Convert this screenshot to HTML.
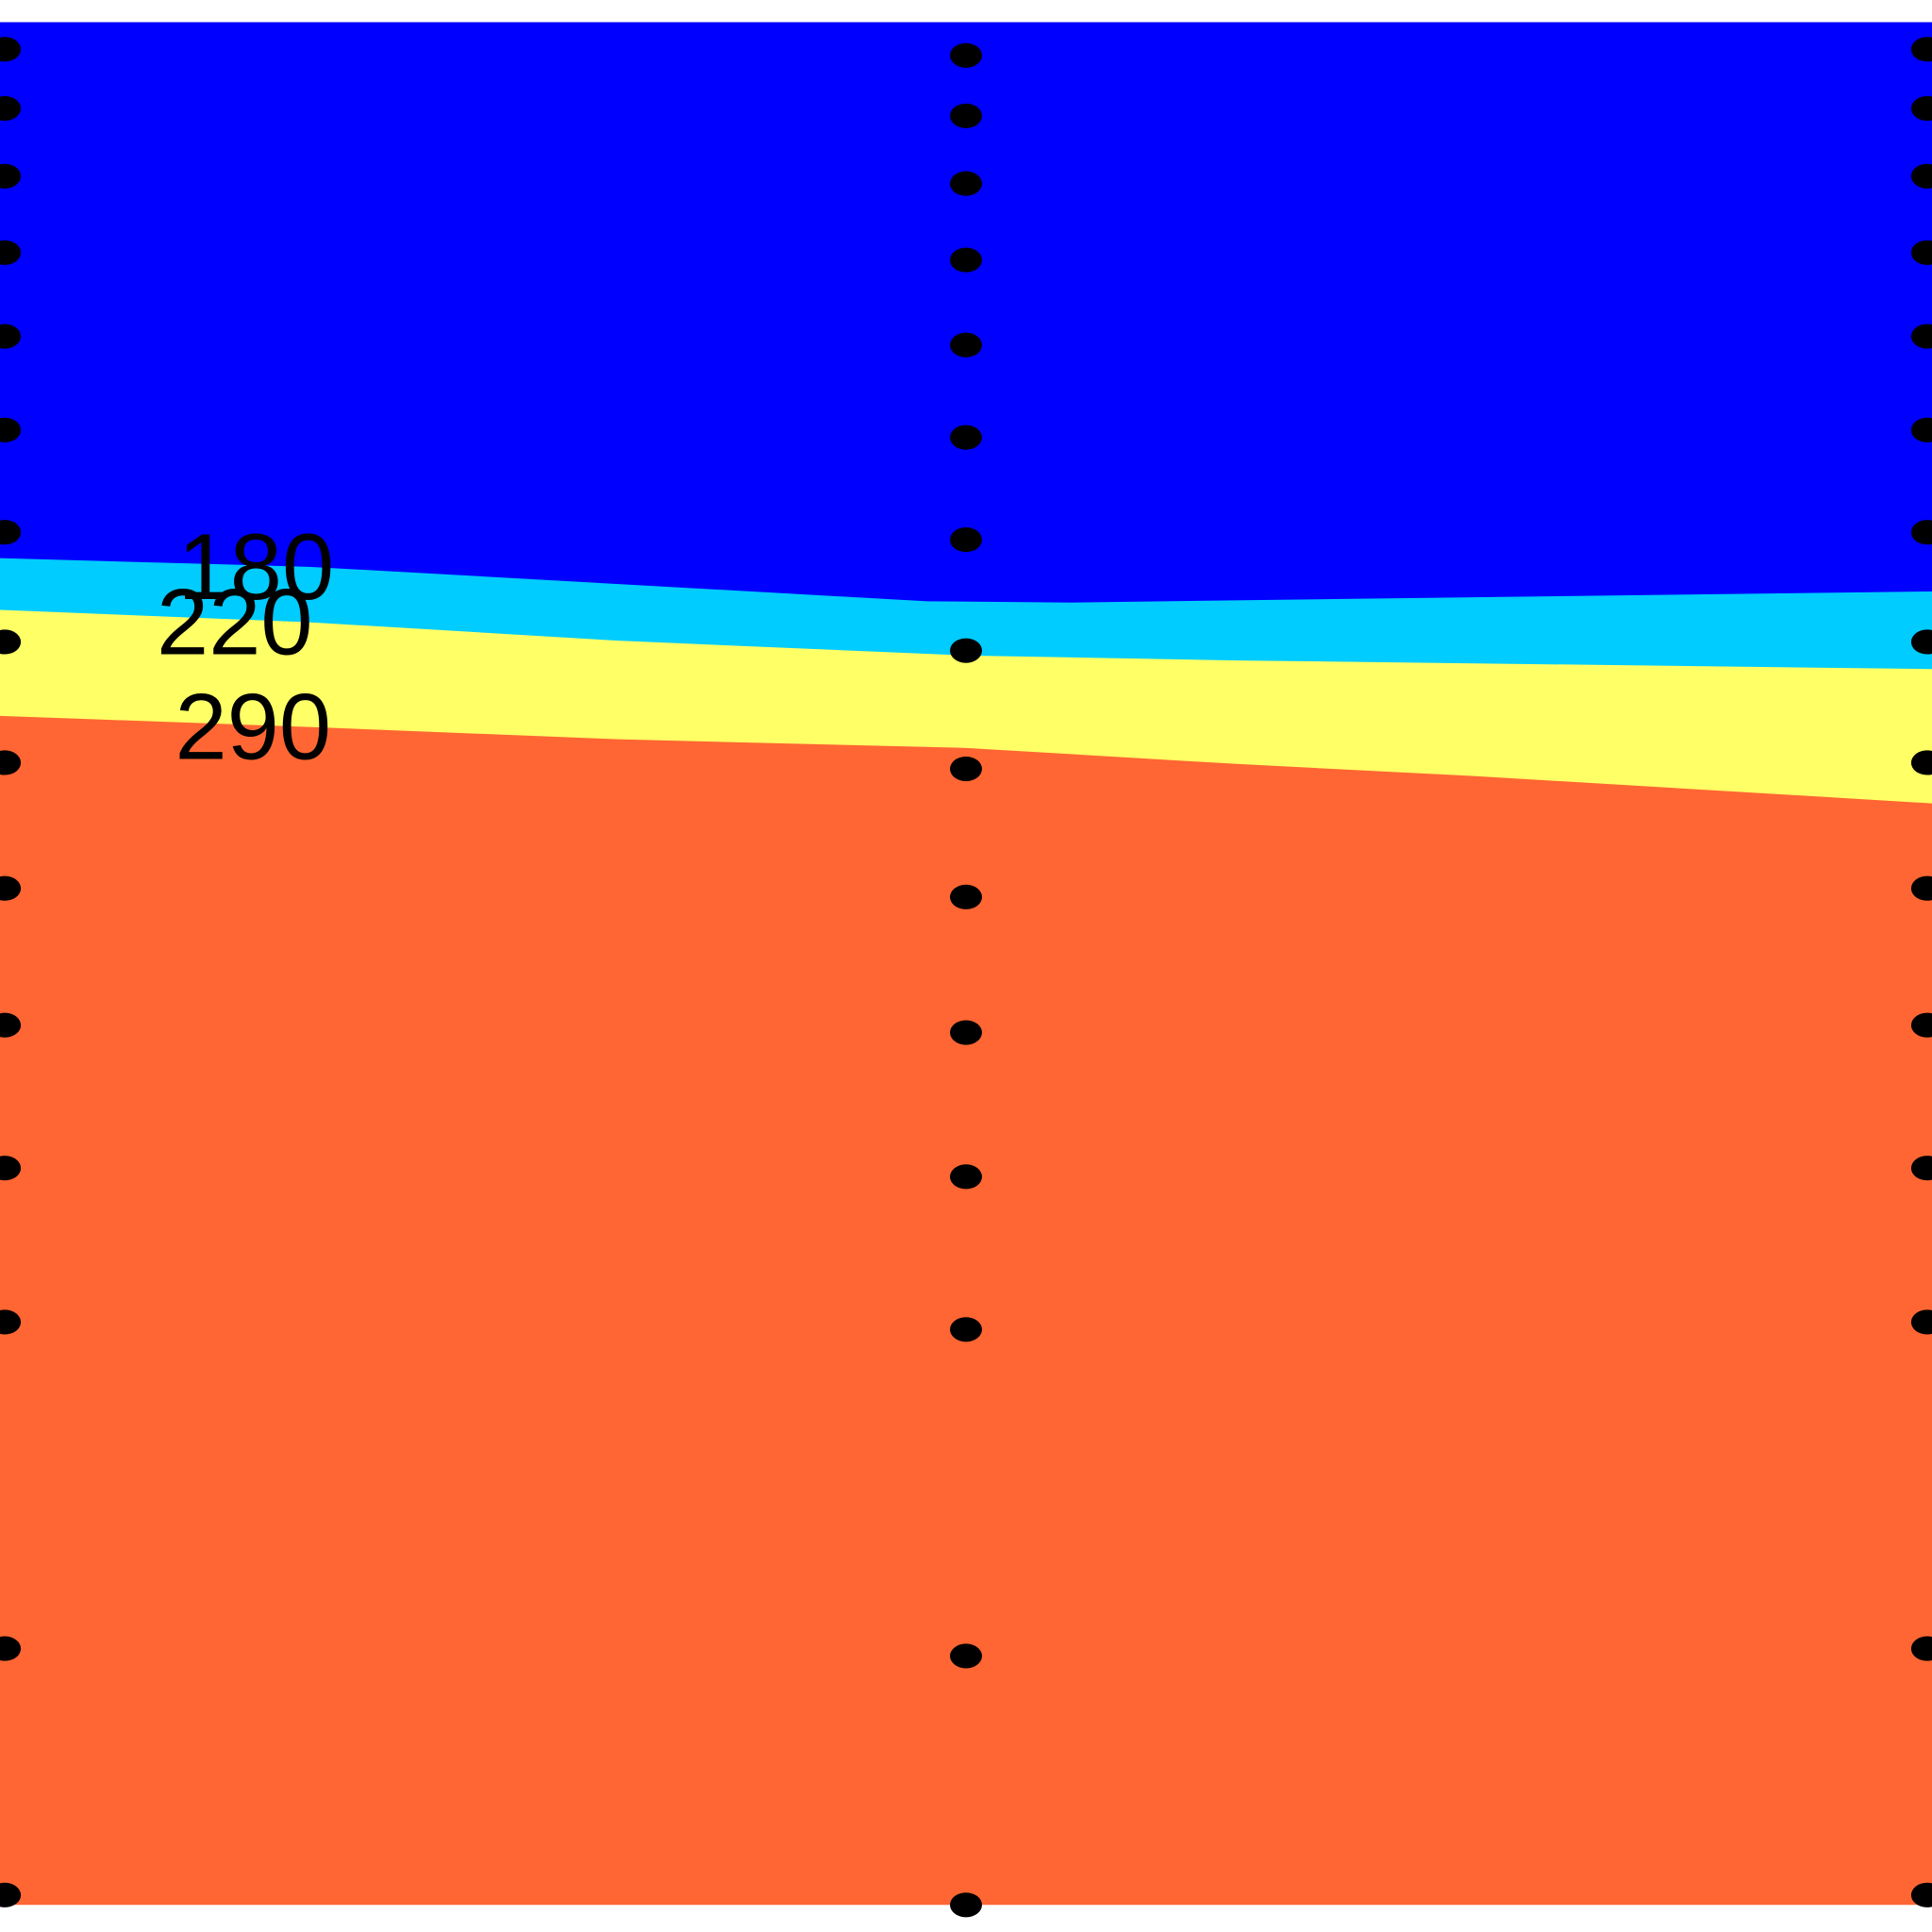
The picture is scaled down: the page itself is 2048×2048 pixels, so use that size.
<!DOCTYPE html>
<html><head><meta charset="utf-8"><style>html,body{margin:0;padding:0;background:#fff}svg{display:block}</style></head>
<body>
<svg id="chart" width="2048" height="2048" viewBox="0 0 1568 1568" xmlns="http://www.w3.org/2000/svg">
<rect x="0" y="0" width="1568" height="1568" fill="#fff"/>
<g id="bands"></g><g id="dots"></g><g id="labels" font-family="Liberation Sans, sans-serif" font-size="76" fill="#000"></g>
</svg>
<script>
// boundary positions (x in 0..2, depth in 0..1528)
const bx = [0, 0.32, 0.64, 0.96, 1.11, 1.40, 2.0];
const b180 = [435, 442, 456, 470, 471, 468, 462];
const bx2 = [0, 0.32, 0.64, 1.0, 1.28, 2.0];
const b220 = [477, 487, 502, 514, 518, 525];
const bx3 = [0, 0.32, 0.64, 1.0, 1.28, 1.53, 2.0];
const b290 = [563, 572, 582, 589, 602, 612, 634];
const colX = [0.005, 1.0, 1.995];
const dotsLeft = [22,70,125,187,255,331,414,503,601,703,814,930,1055,1320,1520];
const dotsMid = [27,76,131,193,262,337,420,510,606,710,820,937,1061,1326,1528];
const dotsRight = [22,70,125,187,255,331,414,503,601,703,814,930,1055,1320,1520];
const labelText = ["180","220","290"];
const labelX = [0.265, 0.243, 0.262];
const labelD = [442, 487, 572];

const X = v => v / 2 * 1568;
const Y = d => 18 + d;
const ns = "http://www.w3.org/2000/svg";
const bands = document.getElementById('bands');
function poly(xs, ys, topXs, topYs, fill, name) {
  let pts = [];
  for (let i = 0; i < xs.length; i++) pts.push(X(xs[i]) + ',' + Y(ys[i]));
  for (let i = topXs.length - 1; i >= 0; i--) pts.push(X(topXs[i]) + ',' + Y(topYs[i]));
  const p = document.createElementNS(ns, 'polygon');
  p.setAttribute('points', pts.join(' '));
  p.setAttribute('fill', fill);
  
  
  bands.appendChild(p);
}
poly([0,2],[1528,1528],[0,2],[0,0],'#ff6633','band-above-290');
poly(bx3,b290,[0,2],[0,0],'#ffff66','band-220-290');
poly(bx2,b220,[0,2],[0,0],'#00ccff','band-180-220');
poly(bx,b180,[0,2],[0,0],'#0000ff','band-below-180');

const dots = document.getElementById('dots');
[dotsLeft, dotsMid, dotsRight].forEach((arr, c) => {
  arr.forEach(d => {
    const e = document.createElementNS(ns, 'ellipse');
    e.setAttribute('cx', X(colX[c])); e.setAttribute('cy', Y(d));
    e.setAttribute('rx', 13); e.setAttribute('ry', 10); e.setAttribute('fill', '#000');
    
    
    dots.appendChild(e);
  });
});
const labels = document.getElementById('labels');
labelText.forEach((t, i) => {
  const tx = document.createElementNS(ns, 'text');
  tx.setAttribute('x', X(labelX[i])); tx.setAttribute('y', Y(labelD[i]) + 26);
  tx.setAttribute('text-anchor', 'middle');
  tx.textContent = t;
  
  
  labels.appendChild(tx);
});
</script>
</body></html>
